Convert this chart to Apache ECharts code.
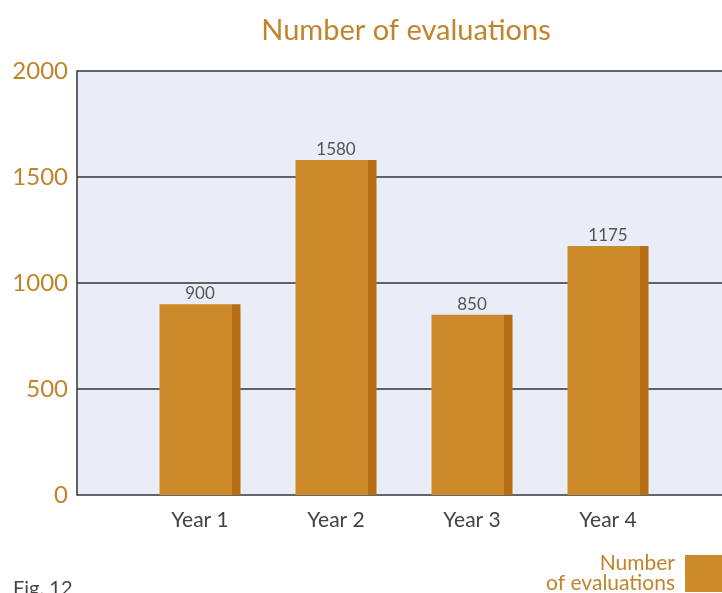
<!DOCTYPE html>
<html>
<head>
<meta charset="utf-8">
<script src="https://cdn.jsdelivr.net/npm/echarts@6/dist/echarts.min.js"></script>
<style>
  html, body { margin: 0; padding: 0; background: #fff; }
  #chart { width: 722px; height: 593px; }
</style>
</head>
<body>
<div id="chart"></div>
<script>
const years = ['Year 1', 'Year 2', 'Year 3', 'Year 4']
const evaluations = [900, 1580, 850, 1175]
const yTicks = [0, 500, 1000, 1500, 2000]

const gold = '#c0842a'
const font = 'Lato'

const myChart = echarts.init(document.getElementById('chart'))
const option = {
  textStyle: { fontFamily: font },
  title: [
    {
      text: 'Number of evaluations',
      left: 401,
      textAlign: 'center',
      top: 11,
      textStyle: { color: gold, fontSize: 29, fontWeight: 'normal', fontFamily: font }
    },
    {
      text: 'Fig. 12',
      left: 8,
      top: 574,
      textStyle: { color: '#444', fontSize: 20, fontWeight: 'normal', fontFamily: font }
    }
  ],
  legend: {
    show: true,
    right: 0,
    top: 553,
    padding: 0,
    align: 'right',
    itemWidth: 37,
    itemHeight: 37,
    itemGap: 8,
    data: [{ name: 'Number of evaluations', icon: 'rect' }],
    itemStyle: { color: '#cd8a2a', borderColor: '#cd8a2a', borderWidth: 0 },
    formatter: () => 'Number\nof evaluations',
    textStyle: {
      color: gold, fontSize: 21, lineHeight: 20, align: 'right', fontFamily: font,
      padding: [0, 5, 0, 0]
    }
  },
  grid: [
    {
      left: 77, top: 71, right: -20, bottom: 98,
      show: true, backgroundColor: '#e9edf7', borderWidth: 0
    },
    { left: 132, top: 71, right: 46, bottom: 98 }
  ],
  xAxis: [
    { gridIndex: 0, type: 'value', show: false, min: 0, max: 1 },
    {
      gridIndex: 1,
      type: 'category',
      data: years,
      axisLine: { show: false },
      axisTick: { show: false },
      axisLabel: { color: '#444', fontSize: 21, margin: 15, fontFamily: font }
    }
  ],
  yAxis: [
    {
      gridIndex: 0,
      type: 'value',
      min: 0, max: 2000, interval: 500,
      axisLine: { show: true, lineStyle: { color: '#333', width: 1.5 } },
      axisTick: { show: false },
      axisLabel: {
        color: gold, fontSize: 24, margin: 9, fontFamily: font,
        formatter: v => (yTicks.includes(v) ? String(v) : '')
      },
      splitLine: { show: true, lineStyle: { color: '#333', width: 1.5 } }
    },
    { gridIndex: 1, type: 'value', min: 0, max: 2000, show: false, splitLine: { show: false } }
  ],
  series: [
    {
      name: 'Number of evaluations',
      type: 'bar',
      xAxisIndex: 1,
      yAxisIndex: 1,
      barWidth: 81,
      data: evaluations,
      itemStyle: {
        color: {
          type: 'linear', x: 0, y: 0, x2: 1, y2: 0,
          colorStops: [
            { offset: 0, color: '#cd8a2a' },
            { offset: 0.9, color: '#cd8a2a' },
            { offset: 0.9, color: '#b66d12' },
            { offset: 1, color: '#b66d12' }
          ]
        }
      },
      label: {
        show: true,
        position: 'top',
        distance: 2,
        color: '#555',
        fontSize: 17,
        fontFamily: font
      }
    }
  ]
}
myChart.setOption(option)
</script>
</body>
</html>
